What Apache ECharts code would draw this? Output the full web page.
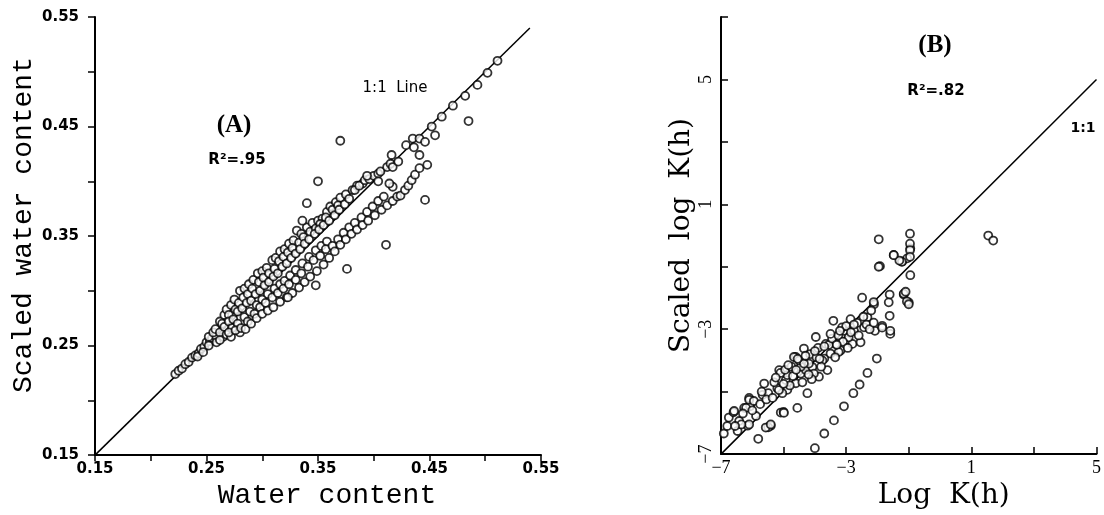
<!DOCTYPE html>
<html>
  <head>
    <meta charset="utf-8" />
    <script src="https://cdn.jsdelivr.net/npm/echarts@6/dist/echarts.min.js"></script>
  </head>
  <body style="margin:0;background:#fff;">
    <div id="main" style="width: 1104px;height:515px;"></div>
    <script type="text/javascript">
      // panel (A): water content vs scaled water content, [x, y]
      var pointsA = [
        // start of the cloud, right on the 1:1 line
        [0.222,0.224],[0.225,0.227],[0.228,0.229],[0.231,0.233],[0.234,0.235],[0.237,0.239],[0.240,0.241],
        [0.243,0.243],[0.245,0.247],[0.248,0.249],[0.250,0.253],[0.253,0.254],[0.255,0.257],[0.258,0.259],
        [0.242,0.240],[0.247,0.244],[0.252,0.250],[0.252,0.258],[0.256,0.262],[0.259,0.253],[0.265,0.258],
        // upper band
        [0.258,0.265],[0.262,0.272],[0.266,0.278],[0.268,0.283],[0.272,0.287],[0.275,0.292],[0.280,0.300],
        [0.284,0.302],[0.288,0.306],[0.292,0.310],[0.296,0.316],[0.300,0.318],[0.304,0.321],[0.309,0.328],
        [0.312,0.330],[0.316,0.336],[0.320,0.338],[0.324,0.343],[0.328,0.346],[0.331,0.355],[0.335,0.352],
        [0.340,0.358],[0.345,0.362],[0.350,0.364],[0.354,0.366],[0.358,0.372],[0.361,0.377],[0.366,0.381],
        [0.370,0.385],[0.375,0.388],[0.381,0.392],[0.385,0.396],[0.390,0.398],
        [0.264,0.270],[0.270,0.278],[0.276,0.283],[0.279,0.289],[0.283,0.294],[0.287,0.297],[0.291,0.302],
        [0.297,0.308],[0.301,0.312],[0.306,0.316],[0.311,0.320],[0.315,0.327],[0.319,0.331],[0.323,0.335],
        [0.327,0.339],[0.333,0.344],[0.337,0.349],[0.343,0.354],[0.348,0.357],[0.352,0.361],[0.357,0.367],
        [0.363,0.374],[0.368,0.378],
        // band along the line
        [0.262,0.262],[0.266,0.267],[0.270,0.272],[0.274,0.274],[0.278,0.281],[0.282,0.284],[0.286,0.289],
        [0.290,0.291],[0.294,0.297],[0.298,0.300],[0.302,0.305],[0.306,0.308],[0.310,0.313],[0.314,0.316],
        [0.318,0.322],[0.322,0.325],[0.326,0.330],[0.330,0.334],[0.334,0.338],[0.338,0.343],[0.342,0.347],
        [0.347,0.352],[0.351,0.356],[0.355,0.360],[0.360,0.364],[0.365,0.369],[0.369,0.374],[0.374,0.379],
        [0.378,0.384],[0.383,0.392],[0.387,0.396],[0.392,0.401],[0.396,0.402],[0.400,0.405],[0.404,0.407],
        [0.394,0.405],[0.406,0.409],[0.404,0.400],[0.412,0.413],[0.415,0.416],[0.416,0.424],[0.417,0.413],
        [0.422,0.418],[0.429,0.433],[0.435,0.439],[0.441,0.439],[0.436,0.431],[0.446,0.436],[0.452,0.450],
        [0.461,0.459],[0.471,0.469],[0.482,0.478],[0.493,0.488],[0.502,0.499],[0.511,0.510],[0.455,0.442],
        // band a little under the line
        [0.262,0.255],[0.268,0.260],[0.273,0.266],[0.278,0.270],[0.284,0.276],[0.289,0.281],[0.295,0.287],
        [0.300,0.292],[0.305,0.297],[0.311,0.302],[0.316,0.306],[0.320,0.309],[0.325,0.314],[0.330,0.319],
        [0.336,0.325],[0.342,0.331],[0.348,0.337],[0.353,0.341],[0.358,0.345],
        [0.272,0.258],[0.280,0.262],[0.287,0.272],[0.293,0.279],[0.298,0.285],[0.303,0.289],[0.309,0.294],
        [0.314,0.298],[0.319,0.302],[0.324,0.306],[0.330,0.310],[0.335,0.316],[0.341,0.322],[0.346,0.328],
        [0.352,0.332],[0.357,0.338],[0.363,0.341],[0.368,0.347],[0.373,0.353],[0.378,0.358],[0.383,0.362],
        [0.389,0.367],[0.394,0.372],[0.399,0.377],[0.404,0.382],[0.409,0.386],
        // lower band
        [0.270,0.262],[0.276,0.264],[0.281,0.266],[0.285,0.265],[0.290,0.270],[0.295,0.275],[0.300,0.279],
        [0.305,0.282],[0.310,0.285],[0.316,0.290],[0.322,0.294],[0.327,0.298],[0.333,0.303],[0.338,0.308],
        [0.343,0.313],[0.349,0.318],[0.355,0.324],[0.360,0.330],[0.365,0.336],[0.370,0.342],[0.375,0.347],
        [0.380,0.352],[0.385,0.356],[0.390,0.360],[0.395,0.364],[0.401,0.369],[0.407,0.374],[0.412,0.378],
        [0.417,0.382],[0.421,0.386],[0.424,0.387],[0.428,0.392],[0.431,0.396],[0.434,0.401],[0.437,0.406],
        [0.441,0.412],[0.448,0.415],[0.441,0.424],[0.417,0.395],[0.414,0.398],
        // scattered points
        [0.370,0.437],[0.350,0.400],[0.340,0.380],[0.336,0.364],[0.376,0.320],[0.411,0.342],[0.446,0.383],
        [0.485,0.455],[0.348,0.305],[0.323,0.294]
      ];

      // panel (B): log K(h) vs scaled log K(h), [x, y]
      var pointsB = [
        [-6.91,-6.34],[-6.75,-5.83],[-6.60,-5.66],[-6.42,-5.94],[-6.47,-6.26],[-6.26,-5.52],[-6.10,-5.20],
        [-6.07,-5.47],[-6.15,-6.09],[-5.81,-6.51],[-5.88,-5.78],[-5.62,-4.74],[-5.67,-5.10],[-5.49,-5.05],
        [-5.41,-6.09],[-5.49,-6.14],[-5.09,-5.67],[-5.00,-5.65],[-5.14,-4.31],[-4.93,-4.63],[-4.88,-4.94],
        [-4.61,-3.89],[-4.56,-5.52],[-4.45,-4.42],[-4.29,-4.31],[-4.24,-5.05],[-4.35,-3.62],[-4.08,-4.21],
        [-3.97,-3.25],[-3.87,-4.52],[-3.70,-3.94],[-3.60,-4.31],[-3.65,-3.47],[-3.41,-2.73],[-3.34,-3.47],
        [-3.18,-3.68],[-3.07,-3.05],[-2.97,-3.36],[-2.86,-2.68],[-2.75,-3.05],[-2.80,-3.47],[-2.49,-1.99],
        [-2.43,-2.94],[-2.54,-3.42],[-2.32,-2.62],[-2.11,-2.20],[-2.08,-3.05],[-1.92,-0.98],[-1.85,-2.89],
        [-1.59,-3.15],[-1.61,-2.57],[-1.61,-1.89],[-1.64,-2.14],[-1.48,-0.62],[-1.21,-0.83],[-1.16,-1.89],
        [-1.00,-2.14],[-0.95,-1.27],[-1.05,-0.73],[-0.95,-0.41],
        [-6.58,-5.62],[-6.20,-5.52],[-6.10,-5.26],[-6.10,-6.05],[-5.57,-6.15],[-5.41,-6.05],[-5.20,-4.89],
        [-5.04,-5.05],[-4.99,-5.68],[-4.88,-4.47],[-4.67,-3.89],[-4.61,-4.73],[-4.45,-4.20],[-4.19,-4.10],
        [-4.03,-4.42],[-3.76,-4.00],[-3.50,-3.78],[-3.24,-3.73],[-3.13,-2.94],[-2.92,-3.26],
        [-6.30,-5.70],[-6.00,-5.60],[-5.95,-5.30],[-5.75,-5.40],[-5.70,-5.00],[-5.55,-5.25],[-5.30,-4.70],
        [-5.35,-5.20],[-5.15,-4.95],[-5.10,-4.40],[-4.95,-4.30],[-4.80,-4.80],[-4.75,-4.20],[-4.70,-4.50],
        [-4.50,-4.00],[-4.40,-4.70],[-4.35,-4.10],[-4.15,-3.80],[-4.10,-4.60],[-3.95,-3.90],[-3.90,-3.60],
        [-3.80,-4.20],[-3.55,-3.50],[-3.45,-3.30],[-3.35,-3.90],[-3.25,-3.20],[-3.10,-3.40],[-3.00,-2.90],
        [-2.95,-3.60],[-2.85,-3.10],[-2.65,-2.80],[-2.60,-3.20],[-2.45,-2.60],[-2.35,-2.85],[-2.20,-2.40],
        [-2.25,-3.00],[-6.35,-6.05],[-6.80,-6.10],[-6.55,-6.10],
        [-2.12,-2.79],[-1.85,-2.95],[-1.59,-3.05],[-2.12,-2.13],
        [-5.25,-4.55],[-5.00,-4.75],[-4.85,-4.15],[-4.60,-4.30],[-4.55,-3.95],[-4.30,-3.85],[-4.20,-4.45],
        [-4.00,-3.70],[-3.85,-3.95],[-3.70,-3.55],[-3.50,-3.15],[-3.30,-3.50],[-3.20,-3.05],[-2.75,-2.85],
        // upper right group
        [-1.96,-0.12],[-0.96,0.06],[-0.96,-0.26],[-0.96,-0.47],[-0.96,-0.68],[-1.22,-0.84],[-1.30,-0.80],
        [-1.48,-0.63],[-1.96,-1.00],[-1.16,-1.86],[-1.10,-1.80],[-1.06,-2.11],[-1.00,-2.20],
        [1.54,0.00],[1.70,-0.16],
        // lower separate trend
        [-4.00,-6.81],[-3.70,-6.34],[-3.39,-5.92],[-3.07,-5.47],[-2.77,-5.05],[-2.57,-4.77],[-2.32,-4.40],
        [-2.02,-3.94]
      ];

      var lineA = [[0.15, 0.15], [0.54, 0.54]];
      var lineB = [[-7, -7], [5, 5]];
      var ticksA = [0.15, 0.25, 0.35, 0.45, 0.55];
      var ticksB = [-7, -3, 1, 5];

      var myChart = echarts.init(document.getElementById('main'));

      function labelA(v) {
        for (var i = 0; i < ticksA.length; i++) {
          if (Math.abs(ticksA[i] - v) < 1e-6) return ticksA[i].toFixed(2);
        }
        return '';
      }
      function labelB(v) {
        for (var i = 0; i < ticksB.length; i++) {
          if (Math.abs(ticksB[i] - v) < 1e-6) return String(ticksB[i]).replace('-', '\u2212');
        }
        return '';
      }

      var axisBlack = { onZero: false, lineStyle: { color: '#000', width: 2 } };
      var monoName = { fontFamily: 'Liberation Mono', fontSize: 28, color: '#000' };
      var serifName = { fontFamily: 'DejaVu Serif', fontSize: 28, color: '#000' };

      var circle = {
        type: 'scatter',
        symbol: 'circle',
        itemStyle: { color: '#fff', borderColor: '#000', borderWidth: 1.8 }
      };

      option = {
        animation: false,
        backgroundColor: '#fff',
        grid: [
          { left: 95, top: 17, width: 446, height: 441 },
          { left: 721, top: 17, width: 376, height: 445 }
        ],
        xAxis: [
          {
            gridIndex: 0, type: 'value', min: 0.15, max: 0.55, interval: 0.05,
            name: 'Water content', nameLocation: 'middle', nameGap: 24,
            nameTextStyle: Object.assign({ padding: [0, 0, 0, 18] }, monoName),
            axisLine: axisBlack,
            axisTick: { length: 6, lineStyle: { color: '#000', width: 1.5 } },
            axisLabel: { formatter: labelA, margin: 7, color: '#000', fontFamily: 'DejaVu Sans', fontWeight: 'bold', fontSize: 15 },
            splitLine: { show: false }
          },
          {
            gridIndex: 1, type: 'value', min: -7, max: 5, interval: 2,
            name: 'Log  K(h)', nameLocation: 'middle', nameGap: 24,
            nameTextStyle: Object.assign({ padding: [0, 0, 0, 70] }, serifName),
            axisLine: axisBlack,
            axisTick: { inside: true, length: 7, lineStyle: { color: '#000', width: 1.5 } },
            axisLabel: { formatter: labelB, margin: 5, color: '#000', fontFamily: 'Liberation Serif', fontSize: 18 },
            splitLine: { show: false }
          }
        ],
        yAxis: [
          {
            gridIndex: 0, type: 'value', min: 0.15, max: 0.55, interval: 0.05,
            name: 'Scaled water content', nameLocation: 'middle', nameGap: 56,
            nameTextStyle: Object.assign({ padding: [0, 0, 0, 22] }, monoName),
            axisLine: axisBlack,
            axisTick: { length: 7, lineStyle: { color: '#000', width: 1.5 } },
            axisLabel: { formatter: labelA, margin: 16, color: '#000', fontFamily: 'DejaVu Sans', fontWeight: 'bold', fontSize: 15 },
            splitLine: { show: false }
          },
          {
            gridIndex: 1, type: 'value', min: -7, max: 7, interval: 2,
            name: 'Scaled  log  K(h)', nameLocation: 'middle', nameGap: 17,
            nameTextStyle: Object.assign({ padding: [0, 0, 0, 0] }, serifName),
            axisLine: axisBlack,
            axisTick: { inside: true, length: 7, lineStyle: { color: '#000', width: 1.5 } },
            axisLabel: { formatter: labelB, rotate: 90, margin: 6, color: '#000', fontFamily: 'Liberation Serif', fontSize: 18 },
            splitLine: { show: false }
          }
        ],
        graphic: [
          { type: 'text', x: 234, y: 126, style: { text: '(A)', align: 'center', verticalAlign: 'middle', font: 'bold 25px "Liberation Serif"', fill: '#000' } },
          { type: 'text', x: 237, y: 160, style: { text: 'R\u00b2=.95', align: 'center', verticalAlign: 'middle', font: 'bold 15px "DejaVu Sans"', fill: '#000' } },
          { type: 'text', x: 395, y: 88, style: { text: '1:1  Line', align: 'center', verticalAlign: 'middle', font: '15px "DejaVu Sans"', fill: '#000' } },
          { type: 'text', x: 935, y: 46, style: { text: '(B)', align: 'center', verticalAlign: 'middle', font: 'bold 25px "Liberation Serif"', fill: '#000' } },
          { type: 'text', x: 936, y: 91, style: { text: 'R\u00b2=.82', align: 'center', verticalAlign: 'middle', font: 'bold 15px "DejaVu Sans"', fill: '#000' } },
          { type: 'text', x: 1083, y: 128, style: { text: '1:1', align: 'center', verticalAlign: 'middle', font: 'bold 14px "DejaVu Sans"', fill: '#000' } }
        ],
        series: [
          {
            type: 'line', xAxisIndex: 0, yAxisIndex: 0, data: lineA, symbol: 'none',
            lineStyle: { color: '#000', width: 1.5 }, z: 1
          },
          Object.assign({}, circle, { xAxisIndex: 0, yAxisIndex: 0, data: pointsA, symbolSize: 8, z: 2 }),
          {
            type: 'line', xAxisIndex: 1, yAxisIndex: 1, data: lineB, symbol: 'none',
            lineStyle: { color: '#000', width: 1.5 }, z: 1
          },
          Object.assign({}, circle, { xAxisIndex: 1, yAxisIndex: 1, data: pointsB, symbolSize: 8, z: 2 })
        ]
      };

      myChart.setOption(option);
    </script>
  </body>
</html>
